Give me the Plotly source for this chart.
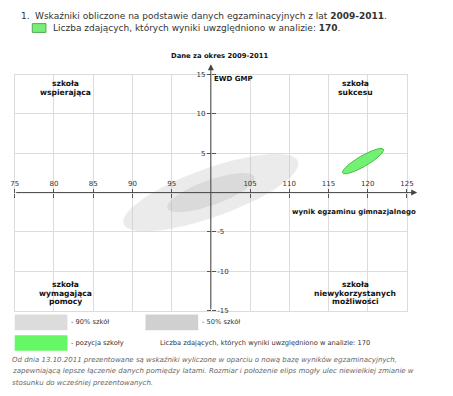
import numpy as np
import plotly.graph_objects as go

W, H = 453, 396
# plot area in page pixels
PL, PR, PT, PB = 11, 413, 72, 313

# ---- data ----
x_ticks = [75, 80, 85, 90, 95, 105, 110, 115, 120, 125]
y_ticks_pos = [5, 10, 15]
y_ticks_neg = [-5, -10, -15]
x_range = [75, 125]
y_range = [-15, 15]

ellipse_names = ["90% szkół", "50% szkół", "pozycja szkoły"]
center_x = [100.0, 100.0, 119.4]
center_y = [0.0, 0.0, 4.0]
semi_major = [11.8, 5.9, 3.0]
semi_minor = [3.1, 1.6, 0.68]
angle_deg = [19.6, 19.6, 30.0]
fill_colors = ["rgba(200,200,200,0.36)", "rgba(180,180,180,0.3)", "rgba(100,240,100,0.9)"]
line_colors = ["rgba(0,0,0,0)", "rgba(0,0,0,0)", "rgba(70,190,70,1)"]

quadrant_labels = [
    ["szkoła", "wspierająca"],
    ["szkoła", "sukcesu"],
    ["szkoła", "wymagająca", "pomocy"],
    ["szkoła", "niewykorzystanych", "możliwości"],
]

n_students = 170
period = "2009-2011"

def px(x):
    return x / W

def py(y):
    return 1 - y / H

xdom = [px(PL), px(PR)]
ydom = [py(PB), py(PT)]

fig = go.Figure()

t = np.linspace(0, 2 * np.pi, 200)
for name, cx, cy, a, b, ang, fc, lc in zip(ellipse_names, center_x, center_y, semi_major,
                                           semi_minor, angle_deg, fill_colors, line_colors):
    th = np.radians(ang)
    ex = cx + a * np.cos(t) * np.cos(th) - b * np.sin(t) * np.sin(th)
    ey = cy + a * np.cos(t) * np.sin(th) + b * np.sin(t) * np.cos(th)
    fig.add_trace(go.Scatter(x=ex, y=ey, mode="lines", fill="toself", fillcolor=fc,
                             line=dict(color=lc, width=1), name=name, hoverinfo="skip",
                             showlegend=False))

# dummy traces to create the free axes
for xa, ya in [("x2", "y"), ("x3", "y"), ("x", "y2"), ("x", "y3")]:
    fig.add_trace(go.Scatter(x=[None], y=[None], xaxis=xa, yaxis=ya, showlegend=False,
                             hoverinfo="skip", mode="markers"))

axis_col = "#555555"
grid_col = "#dcdcdc"
tick_font = dict(family="DejaVu Sans", size=7, color="#333333")
xpos0 = ydom[0] + (0 - y_range[0]) / (y_range[1] - y_range[0]) * (ydom[1] - ydom[0])
ypos0 = xdom[0] + (100 - x_range[0]) / (x_range[1] - x_range[0]) * (xdom[1] - xdom[0])

y_all = y_ticks_neg + y_ticks_pos

fig.update_layout(
    width=W, height=H, margin=dict(l=0, r=0, t=0, b=0),
    paper_bgcolor="white", plot_bgcolor="white", showlegend=False, hovermode=False,
    dragmode=False,
    xaxis=dict(domain=xdom, range=x_range, tick0=75, dtick=5, showgrid=True, gridcolor=grid_col,
               gridwidth=1, zeroline=False, showticklabels=False, ticks="",
               showline=True, mirror=True, linecolor=grid_col, linewidth=1, fixedrange=True),
    yaxis=dict(domain=ydom, range=y_range, tick0=-15, dtick=5, showgrid=True, gridcolor=grid_col,
               gridwidth=1, zeroline=False, showticklabels=False, ticks="",
               showline=True, mirror=True, linecolor=grid_col, linewidth=1, fixedrange=True),
    xaxis2=dict(overlaying="x", anchor="free", position=xpos0, side="top", range=x_range,
                tickvals=x_ticks, ticktext=[str(v) for v in x_ticks], ticks="outside", ticklen=4,
                tickcolor=axis_col, tickfont=tick_font, showgrid=False, zeroline=False,
                showline=False, fixedrange=True),
    xaxis3=dict(overlaying="x", anchor="free", position=xpos0, side="bottom", range=x_range,
                tickvals=x_ticks, showticklabels=False, ticks="outside", ticklen=4,
                tickcolor=axis_col, showgrid=False, zeroline=False, showline=False, fixedrange=True),
    yaxis2=dict(overlaying="y", anchor="free", position=ypos0, side="left", range=y_range,
                tickvals=y_all, ticktext=["" for v in y_ticks_neg] + [str(v) for v in y_ticks_pos],
                ticks="outside", ticklen=4, tickcolor=axis_col, tickfont=tick_font,
                showgrid=False, zeroline=False, showline=False, fixedrange=True),
    yaxis3=dict(overlaying="y", anchor="free", position=ypos0, side="right", range=y_range,
                tickvals=y_all, ticktext=[str(v) for v in y_ticks_neg] + ["" for v in y_ticks_pos],
                ticks="outside", ticklen=4, tickcolor=axis_col, tickfont=tick_font,
                showgrid=False, zeroline=False, showline=False, fixedrange=True),
)

ann = []
# axis arrows
ann.append(dict(x=126.3, y=0, ax=75, ay=0, xref="x", yref="y", axref="x", ayref="y", text="",
                showarrow=True, arrowhead=2, arrowsize=1.2, arrowwidth=1, arrowcolor="#444444"))
ann.append(dict(x=100, y=16.3, ax=100, ay=-15, xref="x", yref="y", axref="x", ayref="y", text="",
                showarrow=True, arrowhead=2, arrowsize=1.2, arrowwidth=1, arrowcolor="#444444"))

def bold(size):
    return dict(family="DejaVu Sans", size=size, color="#111111")

def txt(x, y, text, font, xanchor="left", yanchor="middle", align="left"):
    ann.append(dict(x=px(x), y=py(y), xref="paper", yref="paper", text=text, showarrow=False,
                    xanchor=xanchor, yanchor=yanchor, align=align, font=font))

top_font = dict(family="DejaVu Sans", size=9, color="#333333")
txt(15, 12, "1.", top_font)
txt(30, 12, f"Wskaźniki obliczone na podstawie danych egzaminacyjnych z lat <b>{period}</b>.", top_font)
txt(48, 24, f"Liczba zdających, których wyniki uwzględniono w analizie: <b>{n_students}</b>.", top_font)

txt(221, 53, f"<b>Dane za okres {period}</b>", bold(6.8), xanchor="center")
txt(213, 77, "<b>EWD GMP</b>", bold(7))
txt(424, 212, "<b>wynik egzaminu gimnazjalnego</b>", bold(7), xanchor="right")

quad_mid = [(63, 86), (360, 86), (63, 295), (360, 295)]
line_step = 8.8
for (qx, qy), lines in zip(quad_mid, quadrant_labels):
    n = len(lines)
    for i, line in enumerate(lines):
        txt(qx, qy + line_step * (i - (n - 1) / 2), f"<b>{line}</b>", bold(7.6), xanchor="center")

leg_font = dict(family="DejaVu Sans", size=6.7, color="#333333")
txt(67, 325, "- " + ellipse_names[0], leg_font)
txt(201, 325, "- " + ellipse_names[1], leg_font)
txt(67, 346, "- " + ellipse_names[2], leg_font)
txt(158, 346, f"Liczba zdających, których wyniki uwzględniono w analizie: {n_students}", leg_font)

foot_font = dict(family="DejaVu Sans", size=7, color="#666666")
foot = [
    "<i>Od dnia 13.10.2011 prezentowane są wskaźniki wyliczone w oparciu o nową bazę wyników egzaminacyjnych,</i>",
    "<i>zapewniającą lepsze łączenie danych pomiędzy latami. Rozmiar i położenie elips mogły ulec niewielkiej zmianie w</i>",
    "<i>stosunku do wcześniej prezentowanych.</i>",
]
for i, line in enumerate(foot):
    txt(6, 363 + 12 * i, line, foot_font)

fig.update_layout(annotations=ann)

shapes = []
def rect(x0, y0, x1, y1, fill, line="rgba(0,0,0,0)"):
    shapes.append(dict(type="rect", xref="paper", yref="paper", x0=px(x0), x1=px(x1),
                       y0=py(y1), y1=py(y0), fillcolor=fill, line=dict(color=line, width=1)))

rect(29, 20, 43, 29, "#77ee77", "#55aa55")
rect(11, 317, 65, 333, "#dcdcdc")
rect(145, 317, 199, 333, "#d0d0d0")
rect(11, 338, 65, 354, "#66f766")
fig.update_layout(shapes=shapes)

fig.write_html("out.html", config={"displayModeBar": False, "staticPlot": True},
               post_script="document.body.style.margin='0px';document.body.style.overflow='hidden';")
